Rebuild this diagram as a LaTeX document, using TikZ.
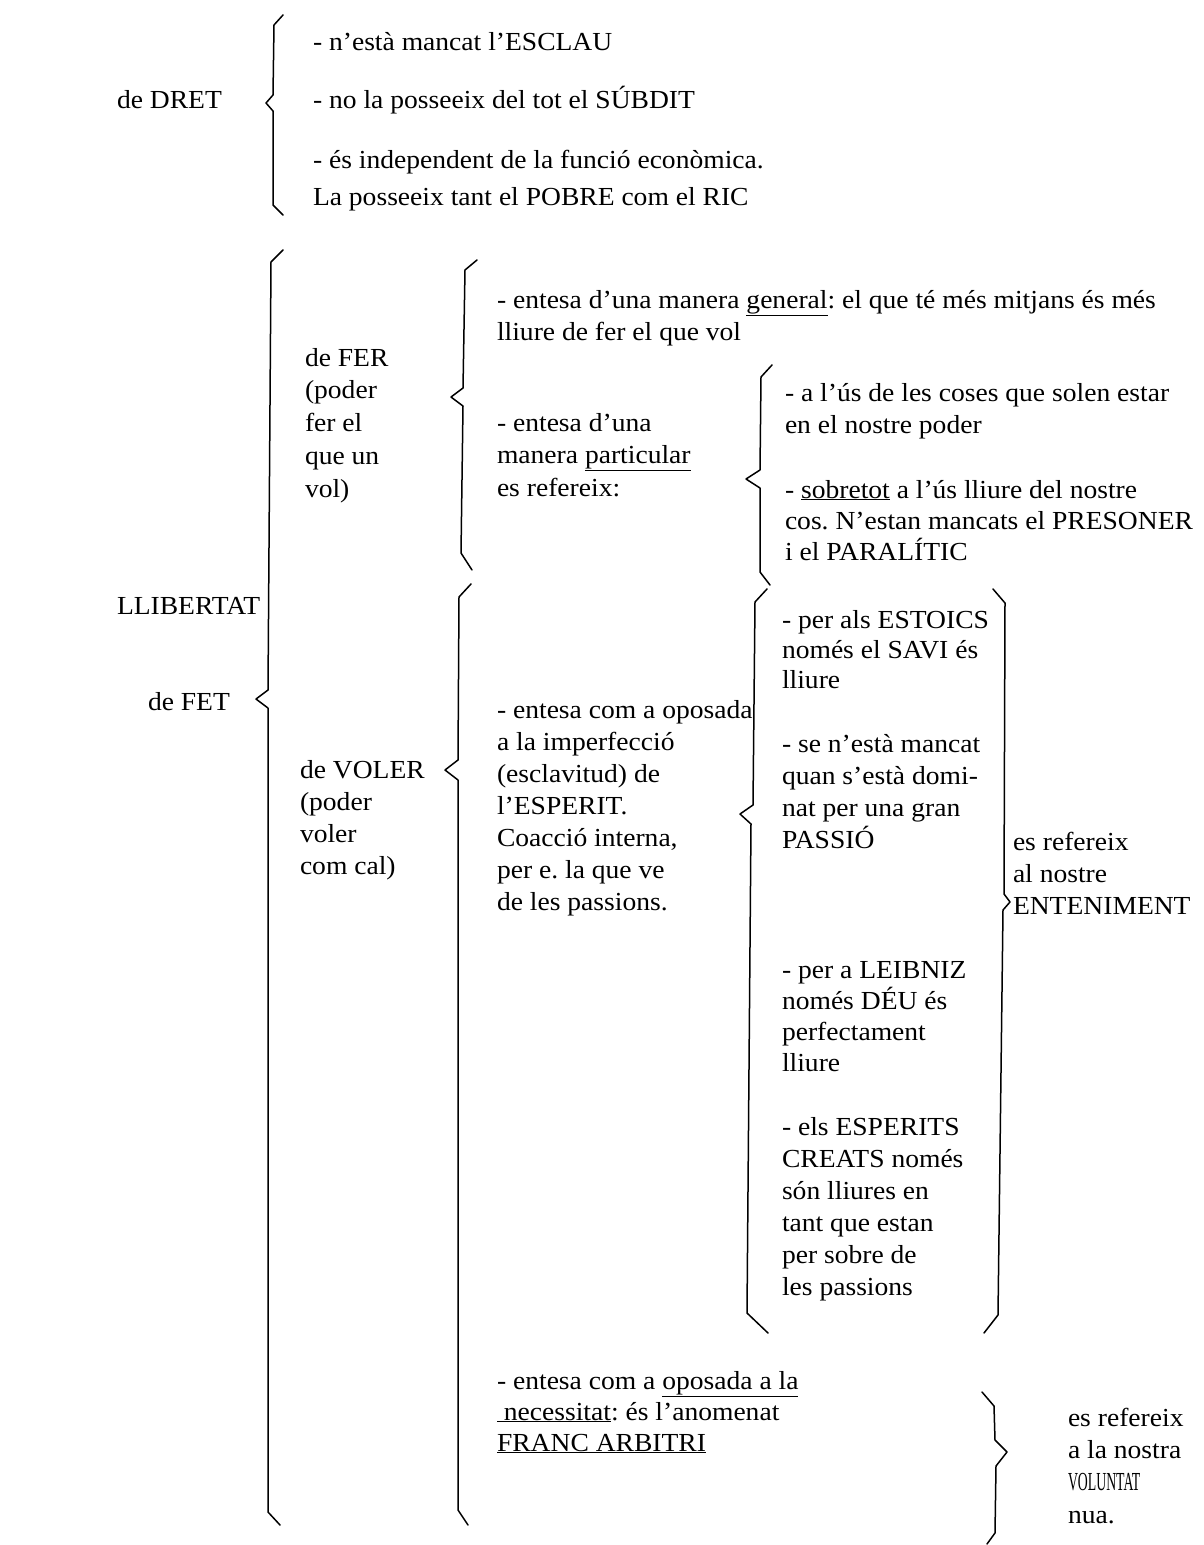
\documentclass[tikz,border=0pt]{standalone}
\usepackage{fontspec}
\setmainfont{Liberation Serif}[FakeStretch=1.06]
\usepackage{graphicx}
\frenchspacing
\begin{document}
\begin{tikzpicture}[x=1pt,y=-1pt,
  txt/.style={anchor=base west, inner sep=0pt, outer sep=0pt, align=left, font=\fontsize{26}{#1}\selectfont\frenchspacing},
  txt/.default=32,
  brc/.style={line width=1.5pt, line join=round, line cap=round}]
\path[use as bounding box, fill=white] (0,0) rectangle (1204,1545);
% note: for multi-line nodes the base anchor is the baseline of the last line

% ---- de DRET ----
\node[txt] (dret) at (117,108) {de DRET};
\node[txt] (d1) at (313,50) {- n’està mancat l’ESCLAU};
\node[txt] (d2) at (313,108) {- no la posseeix del tot el SÚBDIT};
\node[txt] (d3) at (313,168) {- és independent de la funció econòmica.};
\node[txt] (d4) at (313,205) {La posseeix tant el POBRE com el RIC};
\draw[brc] (283,15) -- (274,25) -- (273,95) -- (266,103) -- (273,111) -- (273,205) -- (283,215);

% ---- LLIBERTAT / de FET ----
\node[txt] (llib) at (117,614) {LLIBERTAT};
\node[txt] (fet) at (148,710) {de FET};
\draw[brc] (283,250) -- (271,262) -- (268,690) -- (256,699) -- (268,708) -- (268,1512) -- (280,1525);

% ---- de FER ----
\node[txt=32.7] (fer) at (305,497) {de FER\\(poder\\fer el\\que un\\vol)};
\draw[brc] (477,260) -- (465,270) -- (463,388) -- (451,397) -- (463,406) -- (461,553) -- (472,570);
\node[txt] (gen) at (497,340) {- entesa d’una manera \underline{general}: el que té més mitjans és més\\lliure de fer el que vol};
\node[txt=32.5] (part) at (497,496) {- entesa d’una\\manera \underline{particular}\\es refereix:};
\draw[brc] (772,365) -- (761,377) -- (760,470) -- (746,479) -- (760,488) -- (760,572) -- (770,585);
\node[txt] (coses) at (785,433) {- a l’ús de les coses que solen estar\\en el nostre poder};
\node[txt=31] (sobre) at (785,560) {- \underline{sobretot} a l’ús lliure del nostre\\cos. N’estan mancats el PRESONER\\i el PARALÍTIC};

% ---- de VOLER ----
\node[txt] (voler) at (300,874) {de VOLER\\(poder\\voler\\com cal)};
\draw[brc] (471,584) -- (459,597) -- (458,760) -- (445,770) -- (458,780) -- (458,1510) -- (468,1525);
\node[txt] (imp) at (497,910) {- entesa com a oposada\\a la imperfecció\\(esclavitud) de\\l’ESPERIT.\\Coacció interna,\\per e. la que ve\\de les passions.};
\draw[brc] (767,589) -- (755,602) -- (753,805) -- (740,814) -- (751,824) -- (747,1313) -- (768,1333);
\draw[brc] (993,589) -- (1005,603) -- (1004,894) -- (1010,902) -- (1003,910) -- (998,1315) -- (984,1333);
\node[txt=30] (esto) at (782,688) {- per als ESTOICS\\només el SAVI és\\lliure};
\node[txt=31.7] (passio) at (782,848) {- se n’està mancat\\quan s’està domi-\\nat per una gran\\PASSIÓ};
\node[txt] (ent) at (1013,914) {es refereix\\al nostre\\ENTENIMENT};
\node[txt=31] (leib) at (782,1071) {- per a LEIBNIZ\\només DÉU és\\perfectament\\lliure};
\node[txt] (creats) at (782,1295) {- els ESPERITS\\CREATS només\\són lliures en\\tant que estan\\per sobre de\\les passions};

% ---- necessitat / VOLUNTAT ----
\node[txt=31] (nec) at (497,1451) {- entesa com a \underline{oposada a la}\\\underline{\ necessitat}: és l’anomenat\\\underline{FRANC ARBITRI}};
\draw[brc] (982,1392) -- (994,1406) -- (995,1440) -- (1007,1452) -- (996,1466) -- (995,1533) -- (987,1544);
\node[txt=32.3] (vol) at (1068,1523) {es refereix\\a la nostra\\\scalebox{0.5}[1]{VOLUNTAT}\\nua.};
\end{tikzpicture}
\end{document}
